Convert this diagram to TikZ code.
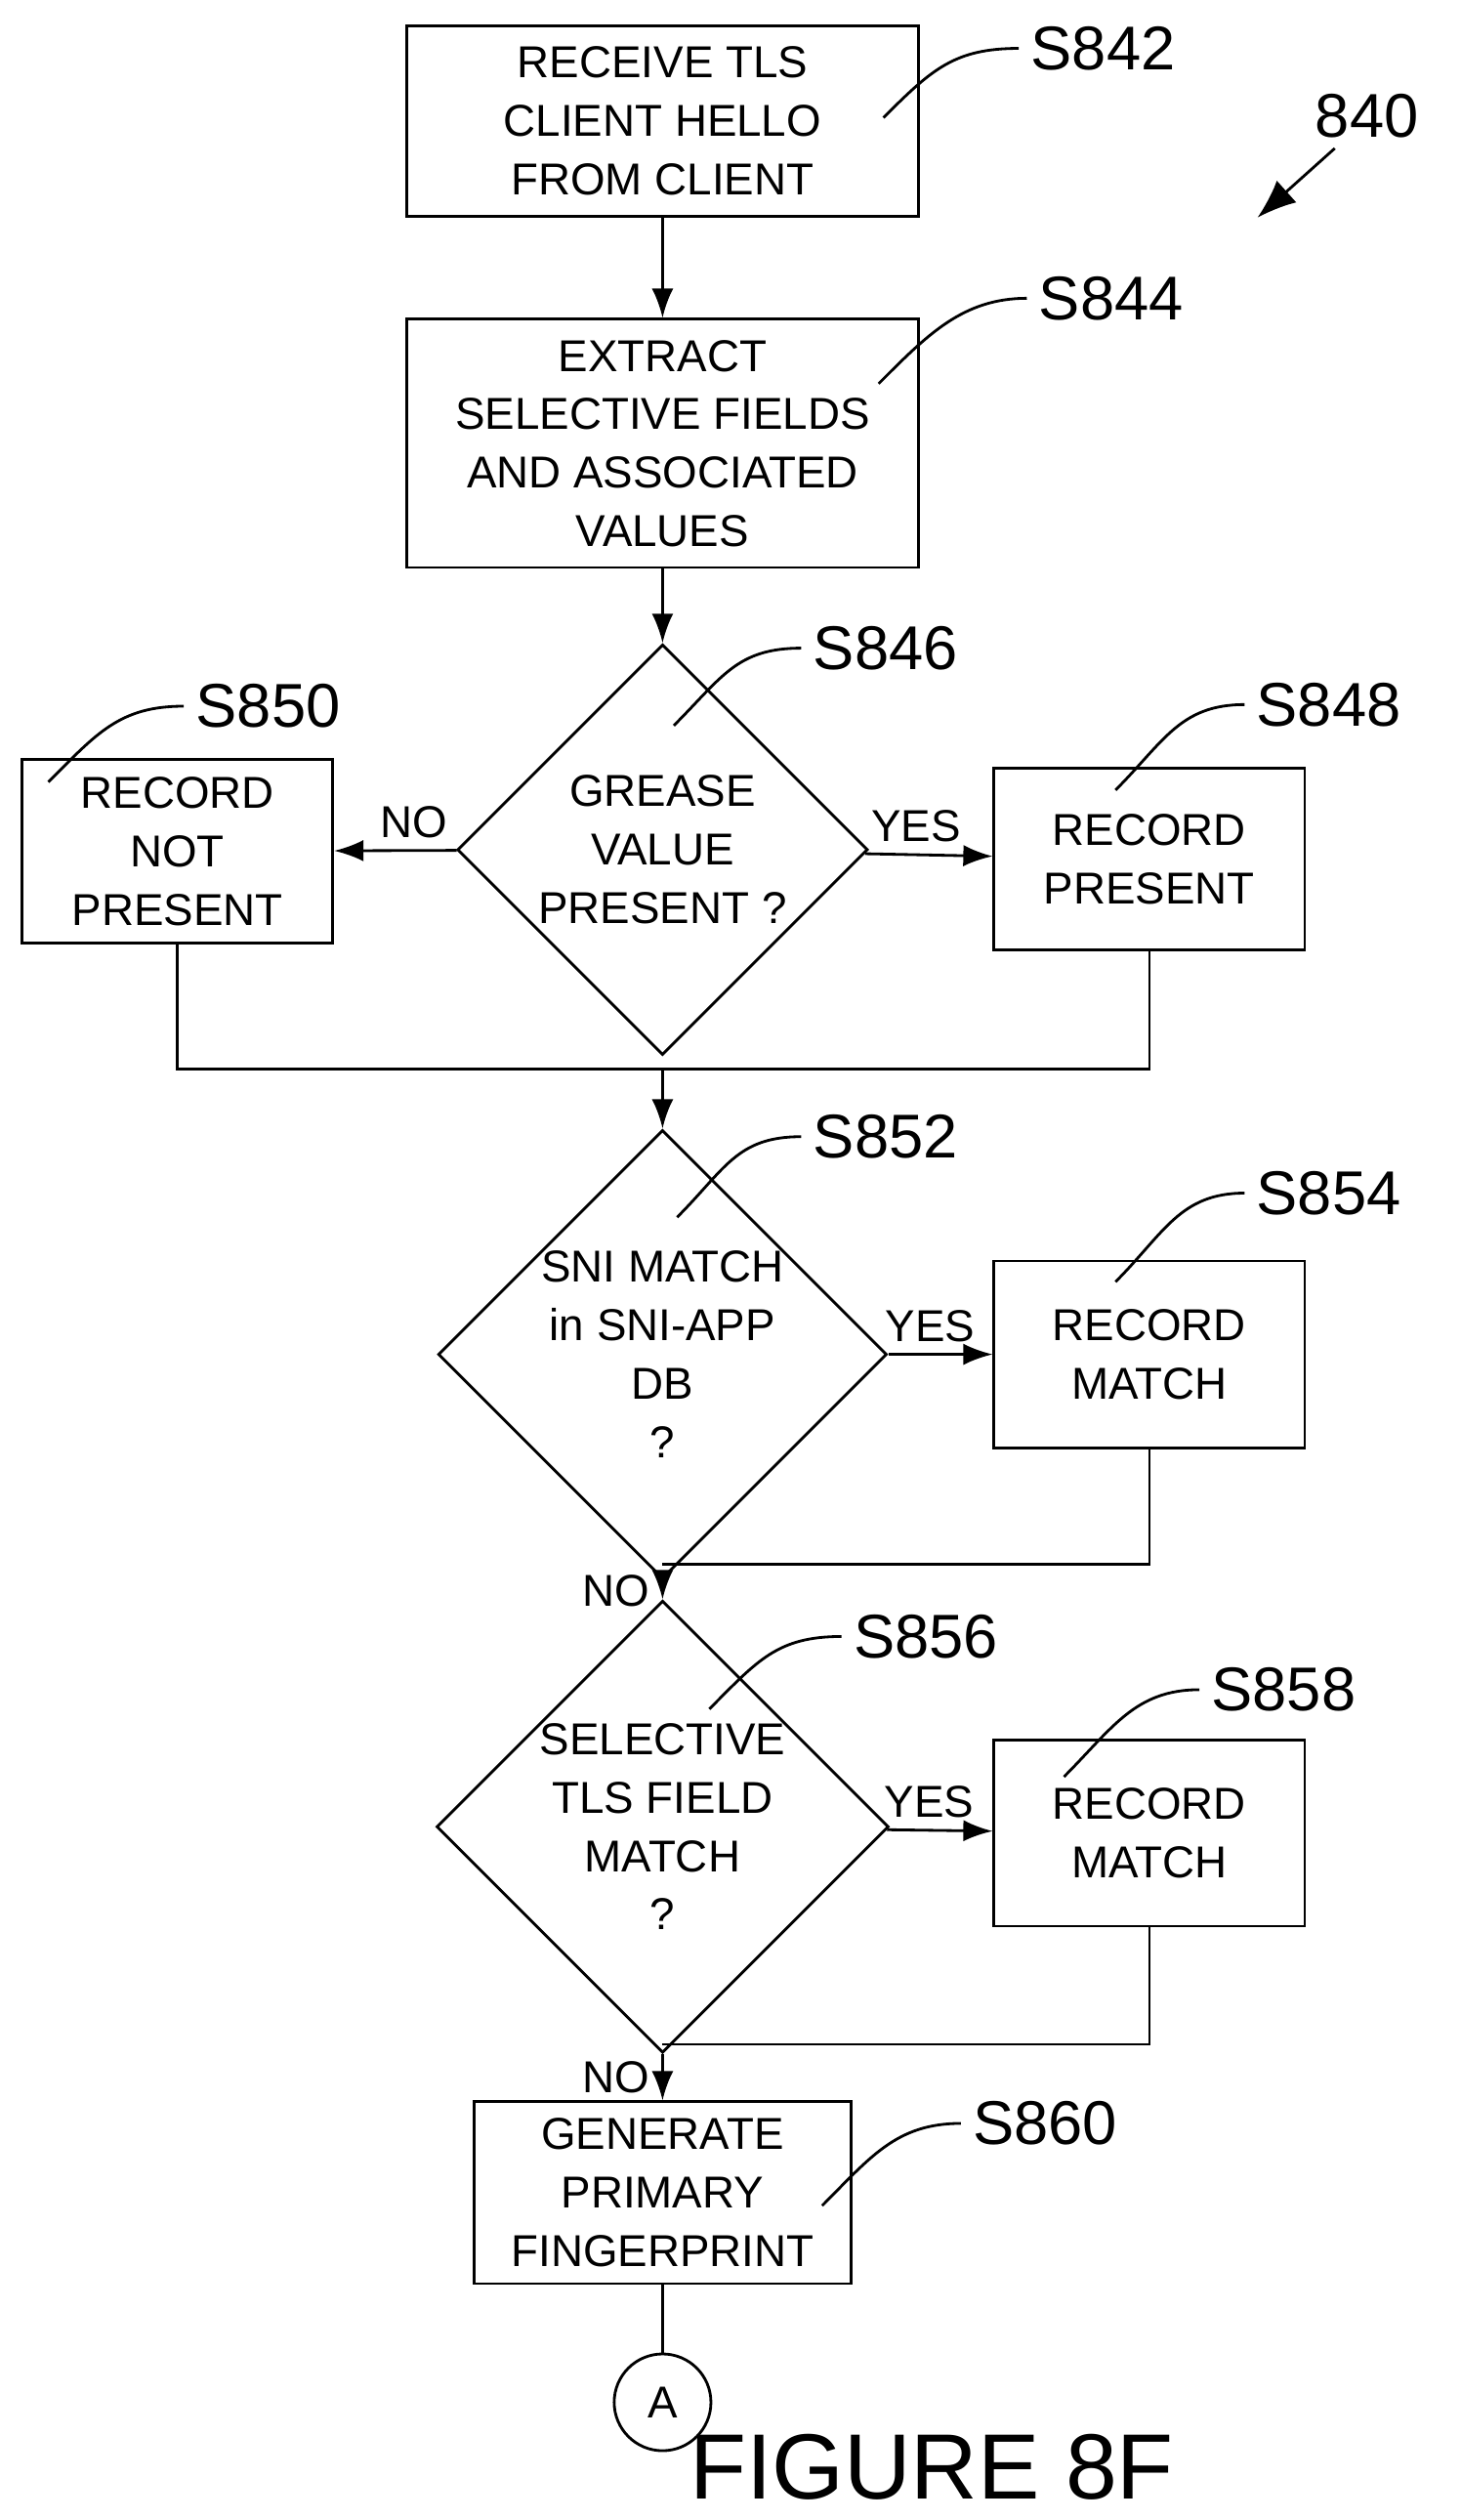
\documentclass[tikz,border=0pt]{standalone}
\usepackage{fontspec}
\setmainfont{Liberation Sans}
\usetikzlibrary{shapes.geometric,arrows.meta}
\tikzset{
  box/.style={draw,thick,align=center,inner sep=0pt,font=\fontsize{13}{17}\selectfont},
  dia/.style={draw,thick,diamond,align=center,inner sep=0pt,minimum size=4.2cm,font=\fontsize{13}{17}\selectfont},
  lbl/.style={font=\fontsize{18}{20}\selectfont},
  txt/.style={font=\fontsize{13}{15}\selectfont},
  arr/.style={thick,-{Latex[length=3mm,width=2.2mm]}},
  lead/.style={thick}
}
\begin{document}
\begin{tikzpicture}[x=0.0165cm,y=-0.0165cm]
      \useasboundingbox (0,0) rectangle (906,1563);

      \node[box,minimum width=5.23cm,minimum height=1.95cm] (s842) at (411,75) {RECEIVE TLS\\CLIENT HELLO\\FROM CLIENT};
      \node[box,minimum width=5.23cm,minimum height=2.54cm] (s844) at (411,275) {EXTRACT\\SELECTIVE FIELDS\\AND ASSOCIATED\\VALUES};
      \node[dia] (s846) at (411,527) {GREASE\\VALUE\\PRESENT ?};
      \node[box,minimum width=3.18cm,minimum height=1.88cm] (s850) at (110,528) {RECORD\\NOT\\PRESENT};
      \node[box,minimum width=3.18cm,minimum height=1.86cm] (s848) at (713,533) {RECORD\\PRESENT};
      \node[dia] (s852) at (411,840) {SNI MATCH\\in SNI-APP\\DB\\?};
      \node[box,minimum width=3.18cm,minimum height=1.91cm] (s854) at (713,840) {RECORD\\MATCH};
      \node[dia] (s856) at (411,1133) {SELECTIVE\\TLS FIELD\\MATCH\\?};
      \node[box,minimum width=3.18cm,minimum height=1.9cm] (s858) at (713,1137) {RECORD\\MATCH};
      \node[box,minimum width=3.86cm,minimum height=1.86cm] (s860) at (411,1360) {GENERATE\\PRIMARY\\FINGERPRINT};
      \node[draw,thick,circle,minimum size=0.99cm,inner sep=0pt,txt] (a) at (411,1490) {A};

      \coordinate (m1) at (411,663);
      \coordinate (m2) at (411,970);
      \coordinate (m3) at (411,1268);

      \draw[arr] (s842) -- (s844);
      \draw[arr] (s844) -- (s846);
      \draw[arr] (s846) -- node[txt,above,pos=0.35] {NO} (s850);
      \draw[arr] (s846) -- node[txt,above,pos=0.4] {YES} (s848);
      \draw[thick] (s850.south) |- (m1) -| (s848.south);
      \draw[arr] (m1) -- (s852);
      \draw[arr] (s852) -- node[txt,above,pos=0.4] {YES} (s854);
      \draw[thick] (s854.south) |- (m2);
      \draw[arr] (s852) -- node[txt,left,pos=0.55] {NO} (s856);
      \draw[arr] (s856) -- node[txt,above,pos=0.4] {YES} (s858);
      \draw[thick] (s858.south) |- (m3);
      \draw[arr] (s856) -- node[txt,left,pos=0.5] {NO} (s860);
      \draw[thick] (s860) -- (a);

      % step labels
      \node[lbl,anchor=west] (l842) at (632,30) {S842};
      \draw[lead] (548,73) .. controls +(30,-30) and +(-40,0) .. (l842.west);
      \node[lbl,anchor=west] (l844) at (637,185) {S844};
      \draw[lead] (545,238) .. controls +(30,-30) and +(-40,0) .. (l844.west);
      \node[lbl,anchor=west] (l846) at (497,402) {S846};
      \draw[lead] (418,450) .. controls +(30,-30) and +(-40,0) .. (l846.west);
      \node[lbl,anchor=west] (l850) at (114,438) {S850};
      \draw[lead] (30,485) .. controls +(30,-30) and +(-40,0) .. (l850.west);
      \node[lbl,anchor=west] (l848) at (772,437) {S848};
      \draw[lead] (692,490) .. controls +(30,-30) and +(-40,0) .. (l848.west);
      \node[lbl,anchor=west] (l852) at (497,705) {S852};
      \draw[lead] (420,755) .. controls +(30,-30) and +(-40,0) .. (l852.west);
      \node[lbl,anchor=west] (l854) at (772,740) {S854};
      \draw[lead] (692,795) .. controls +(30,-30) and +(-40,0) .. (l854.west);
      \node[lbl,anchor=west] (l856) at (522,1015) {S856};
      \draw[lead] (440,1060) .. controls +(30,-30) and +(-40,0) .. (l856.west);
      \node[lbl,anchor=west] (l858) at (744,1048) {S858};
      \draw[lead] (660,1102) .. controls +(30,-30) and +(-40,0) .. (l858.west);
      \node[lbl,anchor=west] (l860) at (596,1317) {S860};
      \draw[lead] (510,1368) .. controls +(30,-30) and +(-40,0) .. (l860.west);

      \node[lbl] (n840) at (848,72) {840};
      \coordinate (t840) at (780,135);
      \draw[thick,-{Latex[length=4mm,width=3mm]}] (828,92) -- (t840);

      \node[font=\fontsize{27}{30}\selectfont] (fig) at (578,1530) {FIGURE 8F};
\end{tikzpicture}
\end{document}
